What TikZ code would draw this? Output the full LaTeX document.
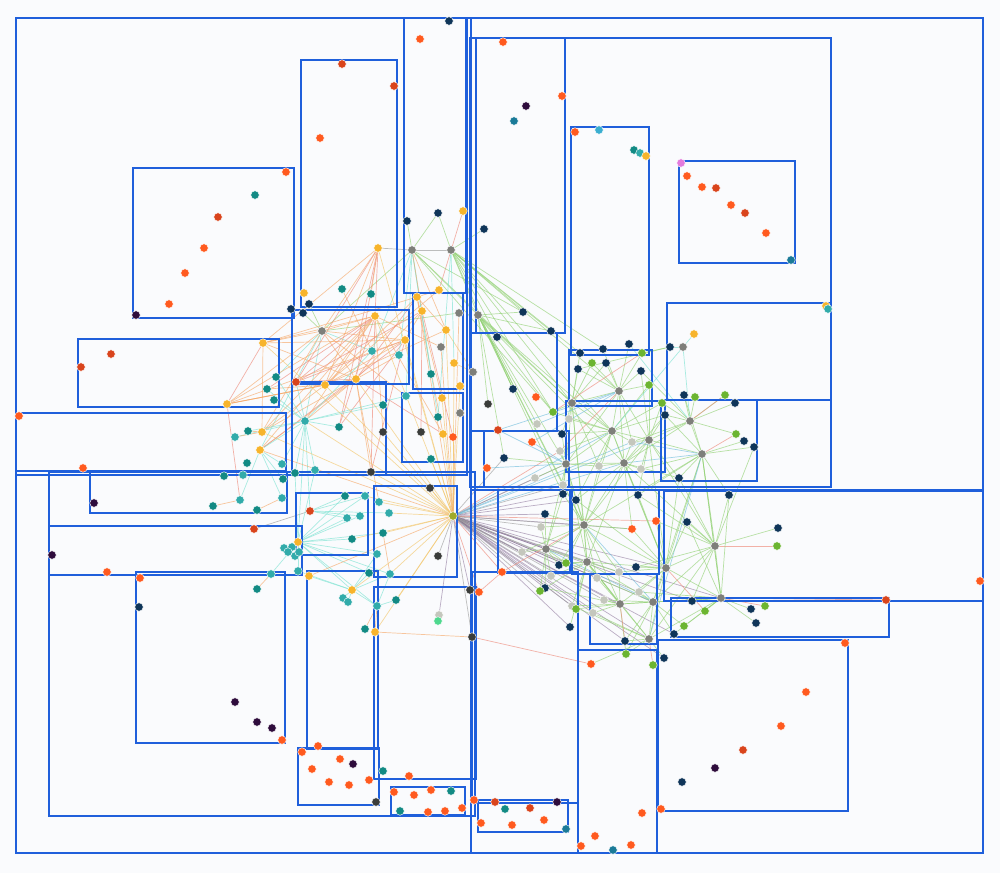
\documentclass[tikz,border=0pt]{standalone}
\usepackage{tikz}
\pgfdeclarelayer{back}
\pgfdeclarelayer{links}
\pgfsetlayers{back,links,main}
\definecolor{cBg}{HTML}{FAFBFD}
\definecolor{cBox}{HTML}{1F5FDB}
\definecolor{cOr}{HTML}{FF5A1F}
\definecolor{cRd}{HTML}{D9441C}
\definecolor{cNv}{HTML}{0F3559}
\definecolor{cTl}{HTML}{128A84}
\definecolor{cLt}{HTML}{31ABAA}
\definecolor{cYl}{HTML}{F7B42C}
\definecolor{cGy}{HTML}{7E7F7A}
\definecolor{cLg}{HTML}{C4C7BD}
\definecolor{cGr}{HTML}{6CB531}
\definecolor{cDp}{HTML}{2E0C3C}
\definecolor{cDg}{HTML}{3A3C3A}
\definecolor{cBt}{HTML}{1A7A98}
\definecolor{cCy}{HTML}{3AAED0}
\definecolor{cMg}{HTML}{E37BDD}
\definecolor{cMn}{HTML}{4ED88E}
\definecolor{cHb}{HTML}{A0AA2A}
\definecolor{lOr}{HTML}{F6A96A}
\definecolor{lRd}{HTML}{EE8A7A}
\definecolor{lCy}{HTML}{7DE3D2}
\definecolor{lGr}{HTML}{93D275}
\definecolor{lPu}{HTML}{6E4F7F}
\definecolor{lBl}{HTML}{72BEDC}
\definecolor{lGy}{HTML}{9C9C9C}
\definecolor{lYl}{HTML}{F3C66A}
\begin{document}
\begin{tikzpicture}[x=0.02cm, y=-0.02cm,
  cell/.style={draw=cBox, line width=0.65pt},
  pt/.style={shape=circle, inner sep=0pt, minimum size=0.17cm, draw=white, line width=0.25pt},
  pOr/.style={pt, fill=cOr}, pRd/.style={pt, fill=cRd}, pNv/.style={pt, fill=cNv},
  pTl/.style={pt, fill=cTl}, pLt/.style={pt, fill=cLt}, pYl/.style={pt, fill=cYl},
  pGy/.style={pt, fill=cGy}, pLg/.style={pt, fill=cLg}, pGr/.style={pt, fill=cGr},
  pDp/.style={pt, fill=cDp}, pDg/.style={pt, fill=cDg}, pBt/.style={pt, fill=cBt},
  pCy/.style={pt, fill=cCy}, pMg/.style={pt, fill=cMg}, pMn/.style={pt, fill=cMn},
  pHb/.style={pt, fill=cHb},
  lk/.style={line width=0.4pt, opacity=0.65},
  eOr/.style={lk, draw=lOr}, eRd/.style={lk, draw=lRd}, eCy/.style={lk, draw=lCy},
  eGr/.style={lk, draw=lGr}, ePu/.style={lk, draw=lPu, opacity=0.45}, eBl/.style={lk, draw=lBl},
  eGy/.style={lk, draw=lGy}, eYl/.style={lk, draw=lYl}]
\useasboundingbox (0,0) rectangle (1000,873);
\begin{pgfonlayer}{back}
\fill[cBg] (0,0) rectangle (1000,873);
\end{pgfonlayer}
\draw[cell] (16,18) rectangle (983,853);
\draw[cell] (471,18) rectangle (983,853);
\draw[cell] (16,18) rectangle (467,475);
\draw[cell] (404,18) rectangle (466,293);
\draw[cell] (301,60) rectangle (397,307);
\draw[cell] (133,168) rectangle (294,318);
\draw[cell] (470,38) rectangle (831,487);
\draw[cell] (476,38) rectangle (565,333);
\draw[cell] (571,127) rectangle (649,355);
\draw[cell] (679,161) rectangle (795,263);
\draw[cell] (667,303) rectangle (831,400);
\draw[cell] (661,400) rectangle (757,481);
\draw[cell] (292,310) rectangle (409,384);
\draw[cell] (413,293) rectangle (463,389);
\draw[cell] (78,339) rectangle (279,407);
\draw[cell] (16,413) rectangle (286,471);
\draw[cell] (292,382) rectangle (386,475);
\draw[cell] (402,393) rectangle (463,462);
\draw[cell] (470,333) rectangle (557,431);
\draw[cell] (484,431) rectangle (569,487);
\draw[cell] (569,350) rectangle (652,406);
\draw[cell] (566,401) rectangle (665,472);
\draw[cell] (471,490) rectangle (983,853);
\draw[cell] (498,490) rectangle (570,573);
\draw[cell] (572,490) rectangle (659,574);
\draw[cell] (472,572) rectangle (578,803);
\draw[cell] (590,574) rectangle (657,644);
\draw[cell] (578,650) rectangle (657,853);
\draw[cell] (664,491) rectangle (983,601);
\draw[cell] (671,598) rectangle (889,637);
\draw[cell] (658,640) rectangle (848,811);
\draw[cell] (49,472) rectangle (475,816);
\draw[cell] (90,472) rectangle (287,513);
\draw[cell] (49,526) rectangle (302,575);
\draw[cell] (136,572) rectangle (285,743);
\draw[cell] (296,493) rectangle (368,555);
\draw[cell] (374,486) rectangle (457,577);
\draw[cell] (307,571) rectangle (378,749);
\draw[cell] (374,587) rectangle (476,779);
\draw[cell] (298,748) rectangle (379,805);
\draw[cell] (391,787) rectangle (465,815);
\draw[cell] (478,800) rectangle (568,832);
\node[pOr] (1) at (286,172) {};
\node[pTl] (2) at (255,195) {};
\node[pRd] (3) at (218,217) {};
\node[pOr] (4) at (204,248) {};
\node[pOr] (5) at (185,273) {};
\node[pOr] (6) at (169,304) {};
\node[pDp] (7) at (136,315) {};
\node[pRd] (8) at (342,64) {};
\node[pRd] (9) at (394,86) {};
\node[pOr] (10) at (320,138) {};
\node[pYl] (11) at (304,293) {};
\node[pNv] (12) at (309,304) {};
\node[pTl] (13) at (342,289) {};
\node[pTl] (14) at (371,294) {};
\node[pYl] (15) at (378,248) {};
\node[pNv] (16) at (291,309) {};
\node[pNv] (17) at (303,313) {};
\node[pNv] (18) at (449,21) {};
\node[pOr] (19) at (420,39) {};
\node[pNv] (20) at (407,221) {};
\node[pNv] (21) at (438,213) {};
\node[pYl] (22) at (463,211) {};
\node[pGy] (hA) at (412,250) {};
\node[pGy] (hB) at (451,250) {};
\node[pNv] (23) at (484,229) {};
\node[pOr] (24) at (503,42) {};
\node[pDp] (25) at (526,106) {};
\node[pBt] (26) at (514,121) {};
\node[pOr] (27) at (562,96) {};
\node[pNv] (28) at (523,312) {};
\node[pNv] (29) at (551,331) {};
\node[pNv] (30) at (497,337) {};
\node[pGy] (hC) at (478,315) {};
\node[pOr] (31) at (575,132) {};
\node[pCy] (32) at (599,130) {};
\node[pTl] (33) at (634,150) {};
\node[pLt] (34) at (640,153) {};
\node[pYl] (35) at (646,156) {};
\node[pNv] (36) at (629,344) {};
\node[pNv] (37) at (603,349) {};
\node[pNv] (38) at (580,353) {};
\node[pGr] (39) at (592,363) {};
\node[pNv] (40) at (606,363) {};
\node[pNv] (41) at (578,369) {};
\node[pMg] (42) at (681,163) {};
\node[pOr] (43) at (687,176) {};
\node[pOr] (44) at (702,187) {};
\node[pRd] (45) at (716,188) {};
\node[pOr] (46) at (731,205) {};
\node[pRd] (47) at (745,213) {};
\node[pOr] (48) at (766,233) {};
\node[pBt] (49) at (791,260) {};
\node[pYl] (50) at (826,306) {};
\node[pLt] (51) at (828,309) {};
\node[pYl] (52) at (694,334) {};
\node[pNv] (53) at (670,347) {};
\node[pGy] (hD) at (683,347) {};
\node[pGr] (54) at (642,353) {};
\node[pNv] (55) at (641,371) {};
\node[pGr] (56) at (649,385) {};
\node[pNv] (57) at (684,395) {};
\node[pGr] (58) at (695,397) {};
\node[pGr] (59) at (725,395) {};
\node[pNv] (60) at (735,403) {};
\node[pGr] (61) at (662,403) {};
\node[pNv] (62) at (665,415) {};
\node[pGy] (hE) at (690,421) {};
\node[pGr] (63) at (736,434) {};
\node[pNv] (64) at (744,441) {};
\node[pNv] (65) at (754,447) {};
\node[pGy] (hF) at (702,454) {};
\node[pNv] (66) at (679,478) {};
\node[pNv] (67) at (638,495) {};
\node[pNv] (68) at (729,495) {};
\node[pGy] (69) at (473,372) {};
\node[pNv] (70) at (513,389) {};
\node[pOr] (71) at (536,397) {};
\node[pDg] (72) at (488,404) {};
\node[pGr] (73) at (553,412) {};
\node[pLg] (74) at (537,424) {};
\node[pLg] (75) at (569,419) {};
\node[pGy] (hG) at (572,403) {};
\node[pGy] (hH) at (619,391) {};
\node[pRd] (76) at (498,430) {};
\node[pNv] (77) at (562,434) {};
\node[pOr] (78) at (532,442) {};
\node[pLg] (79) at (560,451) {};
\node[pGy] (hI) at (612,431) {};
\node[pNv] (80) at (504,458) {};
\node[pGy] (hJ) at (566,464) {};
\node[pLg] (81) at (599,466) {};
\node[pGy] (hK) at (624,463) {};
\node[pOr] (82) at (487,468) {};
\node[pLg] (83) at (535,478) {};
\node[pLg] (84) at (563,485) {};
\node[pNv] (85) at (563,494) {};
\node[pNv] (86) at (576,500) {};
\node[pNv] (87) at (545,514) {};
\node[pLg] (88) at (541,527) {};
\node[pGy] (hL) at (584,525) {};
\node[pGy] (hM) at (649,440) {};
\node[pLg] (89) at (632,442) {};
\node[pLg] (90) at (641,469) {};
\node[pDg] (91) at (430,488) {};
\node[pHb] (hN) at (453,516) {};
\node[pYl] (92) at (454,363) {};
\node[pTl] (93) at (431,374) {};
\node[pYl] (94) at (460,386) {};
\node[pYl] (95) at (442,398) {};
\node[pTl] (96) at (438,417) {};
\node[pGy] (97) at (460,413) {};
\node[pDg] (98) at (421,432) {};
\node[pYl] (99) at (443,434) {};
\node[pOr] (100) at (453,437) {};
\node[pTl] (101) at (431,459) {};
\node[pYl] (102) at (439,290) {};
\node[pYl] (103) at (417,297) {};
\node[pYl] (104) at (422,311) {};
\node[pGy] (105) at (459,313) {};
\node[pYl] (106) at (446,330) {};
\node[pGy] (107) at (441,347) {};
\node[pGy] (hO) at (322,331) {};
\node[pYl] (108) at (375,316) {};
\node[pYl] (109) at (263,343) {};
\node[pLt] (110) at (372,351) {};
\node[pLt] (111) at (399,355) {};
\node[pYl] (112) at (405,340) {};
\node[pTl] (113) at (276,377) {};
\node[pTl] (114) at (267,389) {};
\node[pTl] (115) at (274,400) {};
\node[pYl] (116) at (227,404) {};
\node[pRd] (117) at (296,382) {};
\node[pYl] (118) at (325,385) {};
\node[pYl] (119) at (356,379) {};
\node[pTl] (120) at (383,405) {};
\node[pLt] (hP) at (305,421) {};
\node[pTl] (122) at (339,427) {};
\node[pDg] (123) at (383,432) {};
\node[pLt] (124) at (406,396) {};
\node[pTl] (125) at (248,431) {};
\node[pLt] (126) at (235,437) {};
\node[pYl] (127) at (262,432) {};
\node[pYl] (128) at (260,450) {};
\node[pTl] (129) at (247,463) {};
\node[pLt] (130) at (282,464) {};
\node[pTl] (131) at (295,473) {};
\node[pLt] (132) at (315,470) {};
\node[pDg] (133) at (371,472) {};
\node[pOr] (134) at (19,416) {};
\node[pOr] (135) at (83,468) {};
\node[pDp] (136) at (94,503) {};
\node[pTl] (137) at (224,476) {};
\node[pLt] (138) at (243,475) {};
\node[pTl] (139) at (283,479) {};
\node[pLt] (140) at (240,500) {};
\node[pTl] (141) at (213,506) {};
\node[pTl] (142) at (257,510) {};
\node[pLt] (143) at (282,498) {};
\node[pLt] (144) at (365,496) {};
\node[pTl] (145) at (345,496) {};
\node[pLt] (146) at (379,502) {};
\node[pRd] (147) at (310,511) {};
\node[pLt] (148) at (347,518) {};
\node[pLt] (149) at (360,516) {};
\node[pLt] (150) at (389,513) {};
\node[pRd] (151) at (254,529) {};
\node[pDp] (152) at (52,555) {};
\node[pOr] (153) at (107,572) {};
\node[pOr] (154) at (140,578) {};
\node[pLt] (155) at (271,574) {};
\node[pTl] (156) at (257,589) {};
\node[pLt] (158) at (284,548) {};
\node[pLt] (159) at (292,547) {};
\node[pLt] (160) at (288,552) {};
\node[pLt] (161) at (295,556) {};
\node[pLt] (162) at (299,552) {};
\node[pYl] (hQ) at (298,542) {};
\node[pLt] (163) at (298,571) {};
\node[pYl] (164) at (309,576) {};
\node[pTl] (165) at (352,539) {};
\node[pTl] (166) at (383,533) {};
\node[pLt] (167) at (377,554) {};
\node[pTl] (168) at (369,573) {};
\node[pLt] (169) at (390,574) {};
\node[pYl] (hR) at (352,590) {};
\node[pLt] (171) at (343,598) {};
\node[pLt] (172) at (348,602) {};
\node[pLt] (173) at (377,606) {};
\node[pTl] (174) at (396,600) {};
\node[pTl] (175) at (365,629) {};
\node[pYl] (176) at (375,632) {};
\node[pRd] (177) at (111,354) {};
\node[pRd] (178) at (81,367) {};
\node[pNv] (179) at (139,607) {};
\node[pDp] (180) at (235,702) {};
\node[pDp] (181) at (257,722) {};
\node[pDp] (182) at (272,728) {};
\node[pOr] (183) at (282,740) {};
\node[pOr] (184) at (318,746) {};
\node[pOr] (185) at (302,752) {};
\node[pOr] (186) at (340,759) {};
\node[pDp] (187) at (353,764) {};
\node[pOr] (188) at (312,769) {};
\node[pOr] (189) at (329,782) {};
\node[pOr] (190) at (349,785) {};
\node[pOr] (191) at (369,780) {};
\node[pDg] (192) at (376,802) {};
\node[pTl] (193) at (383,771) {};
\node[pOr] (194) at (409,776) {};
\node[pOr] (195) at (394,792) {};
\node[pOr] (196) at (414,795) {};
\node[pOr] (197) at (431,790) {};
\node[pTl] (198) at (451,791) {};
\node[pTl] (199) at (400,811) {};
\node[pOr] (200) at (428,812) {};
\node[pOr] (201) at (445,811) {};
\node[pOr] (202) at (462,808) {};
\node[pOr] (203) at (474,800) {};
\node[pRd] (204) at (495,802) {};
\node[pTl] (205) at (505,809) {};
\node[pRd] (206) at (530,808) {};
\node[pDp] (207) at (557,802) {};
\node[pOr] (208) at (481,823) {};
\node[pOr] (209) at (512,825) {};
\node[pOr] (210) at (544,820) {};
\node[pBt] (211) at (566,829) {};
\node[pOr] (212) at (581,846) {};
\node[pOr] (213) at (595,836) {};
\node[pBt] (214) at (613,850) {};
\node[pOr] (215) at (631,845) {};
\node[pOr] (216) at (642,813) {};
\node[pOr] (217) at (661,809) {};
\node[pOr] (218) at (845,643) {};
\node[pOr] (219) at (806,692) {};
\node[pOr] (220) at (781,726) {};
\node[pRd] (221) at (743,750) {};
\node[pDp] (222) at (715,768) {};
\node[pNv] (223) at (682,782) {};
\node[pOr] (224) at (980,581) {};
\node[pRd] (225) at (886,600) {};
\node[pNv] (226) at (778,528) {};
\node[pGr] (227) at (777,546) {};
\node[pGy] (hS) at (715,546) {};
\node[pNv] (228) at (751,609) {};
\node[pGr] (229) at (765,606) {};
\node[pNv] (230) at (756,623) {};
\node[pGy] (hT) at (721,598) {};
\node[pNv] (231) at (692,601) {};
\node[pGr] (232) at (705,611) {};
\node[pGr] (233) at (684,626) {};
\node[pNv] (234) at (674,634) {};
\node[pNv] (235) at (636,567) {};
\node[pGy] (hU) at (666,568) {};
\node[pNv] (236) at (625,641) {};
\node[pGr] (237) at (626,654) {};
\node[pGr] (238) at (653,665) {};
\node[pNv] (239) at (664,658) {};
\node[pLg] (240) at (639,592) {};
\node[pGy] (hV) at (620,604) {};
\node[pGy] (hW) at (653,602) {};
\node[pGy] (hX) at (649,639) {};
\node[pOr] (241) at (632,529) {};
\node[pOr] (242) at (656,521) {};
\node[pNv] (243) at (687,522) {};
\node[pDg] (244) at (438,556) {};
\node[pLg] (245) at (439,615) {};
\node[pMn] (246) at (438,621) {};
\node[pDg] (247) at (470,590) {};
\node[pOr] (248) at (479,592) {};
\node[pDg] (249) at (472,637) {};
\node[pOr] (250) at (502,572) {};
\node[pLg] (251) at (522,552) {};
\node[pGy] (hY) at (546,549) {};
\node[pNv] (252) at (559,565) {};
\node[pGr] (253) at (566,563) {};
\node[pGy] (hZ) at (587,562) {};
\node[pLg] (254) at (551,576) {};
\node[pNv] (255) at (545,588) {};
\node[pGr] (256) at (540,591) {};
\node[pLg] (257) at (572,606) {};
\node[pGr] (258) at (576,609) {};
\node[pNv] (259) at (570,627) {};
\node[pLg] (260) at (593,613) {};
\node[pLg] (261) at (604,600) {};
\node[pLg] (262) at (597,578) {};
\node[pLg] (263) at (619,572) {};
\node[pOr] (264) at (591,664) {};
\begin{pgfonlayer}{links}
\path[eGr] (hO) edge (hA) edge (12) edge (17) edge (105);
\path[eCy] (hO) edge (hP) edge (113) edge (128) edge (110);
\path[eOr] (hO) edge (109) edge (108) edge (112) edge (119) edge (15) edge (124) edge (127) edge (116);
\path[eGy] (15) edge (hA);
\path[eRd] (15) edge (108) edge (119) edge (117) edge (122);
\path[eOr] (15) edge (118) edge (14) edge (109);
\path[eOr] (13) edge (110);
\path[eOr] (108) edge (109) edge (127) edge (116) edge (118) edge (123) edge (99) edge (107) edge (128);
\path[eRd] (108) edge (117) edge (122) edge (133) edge (114);
\path[eOr] (119) edge (109) edge (116) edge (127) edge (128) edge (133) edge (146) edge (111) edge (104);
\path[eRd] (119) edge (117) edge (99) edge (103);
\path[eOr] (118) edge (103) edge (112) edge (106) edge (127) edge (114) edge (102);
\path[eRd] (112) edge (117) edge (122) edge (133) edge (128);
\path[eOr] (112) edge (109) edge (104) edge (116);
\path[eOr] (103) edge (99) edge (95) edge (106) edge (102) edge (109);
\path[eRd] (104) edge (100) edge (98) edge (117);
\path[eRd] (22) edge (102);
\path[eYl] (69) edge (92) edge (106);
\path[eCy] (hA) edge (93) edge (96) edge (110) edge (124) edge (111);
\path[eOr] (hA) edge (104) edge (106);
\path[eGr] (hA) edge (hC) edge (20) edge (21) edge (73) edge (28) edge (hG);
\path[eGy] (hA) edge (hB);
\path[eGr] (hB) edge (21) edge (23) edge (28) edge (29) edge (hC) edge (70) edge (hG) edge (37) edge (38) edge (30) edge (hH) edge (hI) edge (73);
\path[eCy] (hB) edge (92) edge (96);
\path[eCy] (hP) edge (117) edge (113) edge (114) edge (115) edge (122) edge (132) edge (130) edge (128) edge (125) edge (126) edge (131) edge (110) edge (120) edge (124) edge (147);
\path[eOr] (hP) edge (108) edge (119);
\path[eOr] (127) edge (125) edge (126) edge (109);
\path[eCy] (128) edge (130) edge (143) edge (139) edge (140);
\path[eRd] (116) edge (109) edge (140);
\path[eOr] (116) edge (119) edge (118);
\path[eOr] (141) edge (140);
\path[eOr] (142) edge (143);
\path[eCy] (131) edge (hQ) edge (132);
\path[eGy] (151) edge (147);
\path[eCy] (147) edge (148) edge (149) edge (150) edge (144) edge (145);
\path[eCy] (hQ) edge (158) edge (159) edge (160) edge (161) edge (162) edge (163) edge (155) edge (165) edge (166) edge (167) edge (168) edge (169) edge (hR) edge (173) edge (145) edge (148) edge (149) edge (132) edge (hP) edge (144);
\path[eCy] (hR) edge (171) edge (172) edge (173) edge (168) edge (163) edge (164) edge (169) edge (167);
\path[eOr] (173) edge (175) edge (176);
\path[eOr] (155) edge (156);
\path[eOr] (169) edge (166);
\path[eCy] (173) edge (174) edge (169);
\path[eYl] (hN) edge (92) edge (94) edge (95) edge (99) edge (100) edge (101) edge (106) edge (108) edge (112) edge (119) edge (123) edge (133) edge (144) edge (146) edge (150) edge (166) edge (169) edge (174) edge (176) edge (109) edge (127) edge (118) edge (15) edge (hP) edge (91) edge (165) edge (hR);
\path[eOr] (hN) edge (105) edge (107) edge (103) edge (128) edge (164);
\path[ePu] (hN) edge (hL) edge (hZ) edge (hY) edge (hV) edge (hX) edge (85) edge (86) edge (87) edge (252) edge (255) edge (259) edge (236) edge (245) edge (247) edge (hJ) edge (hW) edge (hU) edge (234) edge (231) edge (239) edge (262) edge (258) edge (260) edge (hT);
\path[eGy] (hN) edge (88) edge (83) edge (84) edge (261) edge (263) edge (241) edge (244) edge (249) edge (80) edge (257) edge (253) edge (254) edge (256) edge (251) edge (240);
\path[eRd] (hN) edge (250) edge (248) edge (242) edge (79);
\path[eBl] (hN) edge (hI) edge (hK) edge (89) edge (hM);
\path[eOr] (176) edge (249);
\path[eRd] (249) edge (264);
\path[eRd] (248) edge (250);
\path[eRd] (250) edge (hL);
\path[eGr] (hC) edge (28) edge (29) edge (70) edge (73) edge (72) edge (hG) edge (74) edge (80) edge (hJ) edge (hI) edge (30) edge (hL) edge (84) edge (85) edge (hK);
\path[eGr] (hG) edge (41) edge (39) edge (38) edge (73) edge (75) edge (77) edge (hH) edge (hI) edge (hJ) edge (81) edge (40) edge (hL) edge (hZ);
\path[eGr] (hH) edge (37) edge (40) edge (36) edge (39) edge (41) edge (hI) edge (hM) edge (54) edge (55) edge (56) edge (hK) edge (hJ) edge (89);
\path[eBl] (hH) edge (74) edge (78) edge (76);
\path[eRd] (hH) edge (79);
\path[eGr] (hI) edge (73) edge (75) edge (77) edge (79) edge (hJ) edge (hK) edge (hM) edge (89) edge (81) edge (62) edge (61) edge (56) edge (hL) edge (86) edge (hU);
\path[eGr] (hJ) edge (77) edge (79) edge (80) edge (84) edge (85) edge (86) edge (83) edge (hL) edge (hK) edge (81) edge (hY) edge (hZ);
\path[eBl] (hJ) edge (78) edge (76) edge (82);
\path[eGr] (hK) edge (89) edge (90) edge (81) edge (86) edge (67) edge (66) edge (hM) edge (hL) edge (62) edge (hZ) edge (hU) edge (241);
\path[eBl] (hK) edge (hF);
\path[eGr] (hM) edge (89) edge (90) edge (62) edge (61) edge (66) edge (67) edge (hF) edge (hE) edge (56) edge (55) edge (hU) edge (hL);
\path[eGr] (hE) edge (57) edge (58) edge (59) edge (60) edge (61) edge (62) edge (63) edge (hF) edge (55) edge (89) edge (hK);
\path[eCy] (hE) edge (hD) edge (36);
\path[eRd] (hE) edge (59);
\path[eGr] (hF) edge (64) edge (65) edge (66) edge (68) edge (67) edge (62) edge (57) edge (hU) edge (hS) edge (90) edge (hW) edge (hT) edge (hL);
\path[eRd] (hF) edge (63);
\path[eBl] (hF) edge (89) edge (hX);
\path[eCy] (hD) edge (52) edge (53) edge (hI);
\path[eGr] (53) edge (41) edge (54);
\path[eRd] (54) edge (73);
\path[eGr] (hS) edge (226) edge (68) edge (243) edge (242) edge (235) edge (hU) edge (hT) edge (231) edge (66) edge (65) edge (hK) edge (hW) edge (hX) edge (hM) edge (67);
\path[eRd] (hS) edge (227);
\path[eGr] (hT) edge (228) edge (230) edge (231) edge (232) edge (233) edge (234) edge (hU) edge (hW) edge (68) edge (243) edge (hF) edge (hX) edge (hV) edge (240);
\path[eRd] (hT) edge (229) edge (225);
\path[eGr] (hU) edge (235) edge (240) edge (hW) edge (hV) edge (hX) edge (242) edge (241) edge (243) edge (67) edge (86) edge (263) edge (hZ) edge (hL) edge (66);
\path[eRd] (hU) edge (232);
\path[eGr] (hW) edge (240) edge (233) edge (234) edge (hX) edge (236) edge (237) edge (hV) edge (261) edge (hZ) edge (262);
\path[eBl] (hW) edge (hL) edge (hY);
\path[eGr] (hX) edge (236) edge (237) edge (239) edge (hV) edge (260) edge (264) edge (hZ) edge (257);
\path[eRd] (hX) edge (238);
\path[eGr] (hV) edge (261) edge (260) edge (257) edge (258) edge (237) edge (262) edge (263) edge (hZ) edge (hL) edge (255);
\path[eRd] (hV) edge (236);
\path[eGr] (hL) edge (85) edge (86) edge (87) edge (88) edge (251) edge (252) edge (253) edge (hY) edge (hZ) edge (262) edge (263) edge (241) edge (84) edge (81);
\path[eGr] (hY) edge (251) edge (252) edge (253) edge (254) edge (255) edge (256) edge (88) edge (87) edge (hZ) edge (85);
\path[eGr] (hZ) edge (252) edge (253) edge (254) edge (258) edge (257) edge (262) edge (263) edge (hV) edge (259) edge (255);
\end{pgfonlayer}
\end{tikzpicture}
\end{document}
